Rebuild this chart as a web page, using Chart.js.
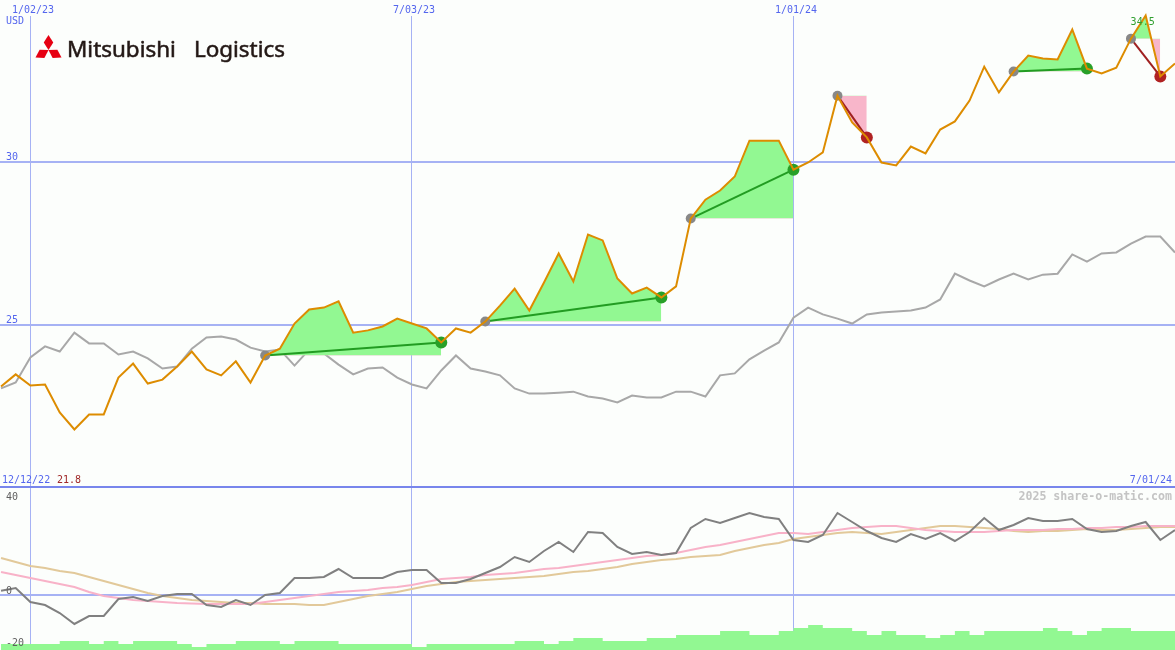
<!DOCTYPE html>
<html>
<head>
<meta charset="utf-8">
<script src="https://cdn.jsdelivr.net/npm/chart.js@4.4.1/dist/chart.umd.min.js"></script>
<style>
  html, body { margin: 0; padding: 0; background: #fcfefc; }
  #wrap { position: relative; width: 1175px; height: 650px; }
</style>
</head>
<body>
<div id="wrap"><canvas id="canvas" width="1175" height="650"></canvas></div>
<script>
// weekly closes, 81 weeks
const weeks = Array.from({ length: 81 }, (_, i) => i);

const price = [
    23.10, 23.47, 23.13, 23.16, 22.30, 21.78, 22.24, 22.24, 23.37, 23.80,
    23.19, 23.31, 23.71, 24.17, 23.62, 23.44, 23.87, 23.22, 24.05, 24.26,
    25.03, 25.46, 25.52, 25.71, 24.75, 24.82, 24.94, 25.18, 25.03, 24.88,
    24.45, 24.88, 24.75, 25.09, 25.58, 26.10, 25.43, 26.29, 27.18, 26.32,
    27.76, 27.58, 26.41, 25.95, 26.13, 25.83, 26.17, 28.25, 28.83, 29.11,
    29.54, 30.64, 30.64, 30.64, 29.75, 29.97, 30.28, 32.02, 31.20, 30.74,
    29.97, 29.88, 30.46, 30.25, 30.98, 31.23, 31.87, 32.91, 32.12, 32.76,
    33.25, 33.16, 33.13, 34.05, 32.85, 32.70, 32.88, 33.77, 34.48, 32.61,
    33.01,
];

// market index, rebased to the price
const market = [
    23.04, 23.22, 23.99, 24.33, 24.17, 24.75, 24.42, 24.42, 24.08, 24.17,
    23.96, 23.65, 23.71, 24.26, 24.60, 24.63, 24.54, 24.29, 24.17, 24.23,
    23.74, 24.23, 24.11, 23.77, 23.47, 23.65, 23.68, 23.37, 23.16, 23.04,
    23.59, 24.05, 23.65, 23.56, 23.44, 23.04, 22.88, 22.88, 22.91, 22.94,
    22.79, 22.73, 22.61, 22.82, 22.76, 22.76, 22.94, 22.94, 22.79, 23.44,
    23.50, 23.93, 24.20, 24.45, 25.21, 25.52, 25.31, 25.18, 25.03, 25.31,
    25.37, 25.40, 25.43, 25.52, 25.77, 26.56, 26.35, 26.17, 26.38, 26.56,
    26.38, 26.53, 26.56, 27.15, 26.93, 27.18, 27.21, 27.48, 27.70, 27.70,
    27.21,
];

// lower panel
const momentum = [
    1.7, 2.8, -2.8, -4.0, -7.2, -11.6, -8.4, -8.4, -1.6, -0.8,
    -2.4, -0.4, 0.4, 0.4, -4.0, -4.8, -2.0, -4.0, 0.0, 0.8,
    6.8, 6.8, 7.2, 10.4, 6.8, 6.8, 6.8, 9.2, 10.0, 10.0,
    4.8, 4.8, 6.4, 8.8, 11.2, 15.2, 13.2, 17.6, 21.2, 17.2,
    25.2, 24.8, 19.2, 16.4, 17.2, 16.0, 16.8, 26.8, 30.4, 28.8,
    30.8, 32.8, 31.2, 30.4, 22.0, 21.2, 24.0, 32.8, 29.2, 25.6,
    22.8, 21.2, 24.4, 22.4, 24.8, 21.6, 25.2, 30.8, 26.0, 28.0,
    30.8, 29.6, 29.6, 30.4, 26.4, 25.2, 25.6, 27.6, 29.2, 22.0,
    26.0,
];
const avgFast = [
    9.2, 8.0, 6.8, 5.6, 4.4, 3.2, 1.2, -0.4, -1.2, -2.0,
    -2.4, -2.8, -3.2, -3.4, -3.6, -3.6, -3.6, -3.6, -2.8, -2.0,
    -1.2, -0.4, 0.4, 1.2, 1.6, 2.0, 2.8, 3.2, 4.0, 5.2,
    6.4, 6.8, 7.2, 8.0, 8.4, 8.8, 9.6, 10.4, 10.8, 11.6,
    12.4, 13.2, 14.0, 14.8, 15.6, 16.0, 16.8, 18.0, 19.2, 20.0,
    21.2, 22.4, 23.6, 24.8, 24.8, 24.4, 25.2, 26.0, 26.8, 27.2,
    27.6, 27.6, 26.8, 26.0, 25.6, 25.2, 25.2, 25.2, 25.6, 26.0,
    26.0, 26.0, 26.4, 26.4, 26.8, 26.8, 27.2, 27.2, 27.6, 27.6,
    27.6,
];
const avgSlow = [
    14.8, 13.2, 11.6, 10.8, 9.6, 8.8, 7.2, 5.6, 4.0, 2.4,
    0.8, -0.4, -1.2, -2.0, -2.4, -2.8, -3.2, -3.2, -3.6, -3.6,
    -3.6, -4.0, -4.0, -2.8, -1.6, -0.4, 0.4, 1.2, 2.4, 3.6,
    4.4, 5.2, 5.6, 6.0, 6.4, 6.8, 7.2, 7.6, 8.4, 9.2,
    9.6, 10.4, 11.2, 12.4, 13.2, 14.0, 14.4, 15.2, 15.6, 16.0,
    17.6, 18.8, 20.0, 20.8, 22.4, 23.2, 24.0, 24.8, 25.2, 24.8,
    24.4, 25.2, 26.0, 26.8, 27.6, 27.6, 27.2, 26.8, 26.4, 25.6,
    25.2, 25.6, 25.6, 26.0, 26.4, 26.0, 26.0, 26.4, 26.8, 27.2,
    27.2,
];
const volume = [
    20, 20, 20, 20, 20, 30, 30, 20, 30, 20,
    30, 30, 30, 20, 10, 20, 20, 30, 30, 30,
    20, 30, 30, 30, 20, 20, 20, 20, 20, 10,
    20, 20, 20, 20, 20, 20, 30, 30, 20, 30,
    40, 40, 30, 30, 30, 40, 40, 50, 50, 50,
    63, 63, 50, 50, 63, 73, 83, 73, 73, 63,
    50, 63, 50, 50, 40, 50, 63, 50, 63, 63,
    63, 63, 73, 63, 50, 63, 73, 73, 63, 63,
    63,
];

// signals: entry week / exit week
const tradeStart = [18, 33, 47, 57, 69, 77];
const tradeEnd = [30, 45, 54, 59, 74, 79];

const tickWeeks = [2, 28, 54];
const tickLabels = ['1/02/23', '7/03/23', '1/01/24'];
const priceTicks = [30, 25];
const oscTicks = [40, 0, -20];
const firstDate = '12/12/22';
const lastDate = '7/01/24';
const currency = 'USD';
const title = ['Mitsubishi', 'Logistics'];

const colors = {
    price: '#dd8c00',
    market: '#a8a8a8',
    momentum: '#808080',
    fast: '#f8b2c8',
    slow: '#e2c99a',
    volume: '#92f892',
    gain: '#92f892',
    loss: '#f8b6ca',
    winLine: '#229c22',
    lossLine: '#a02020',
    grid: '#a6b2f4',
    split: '#7886ec',
    label: '#5466ee',
};
const SPLIT_Y = 487;
const oscLabelShift = [5, -1, 1];

const xy = (arr) => arr.map((v, i) => ({ x: weeks[i], y: v }));
const pt = (i) => ({ x: weeks[i], y: price[i] });

const datasets = [];

datasets.push({
    label: 'price',
    data: xy(price),
    yAxisID: 'yTop',
    borderColor: colors.price,
    borderWidth: 2,
    pointRadius: 0,
    fill: false,
});

// markers
datasets.push({
    label: 'entries',
    data: tradeStart.map(pt),
    yAxisID: 'yTop',
    showLine: false,
    pointRadius: 5,
    pointBorderWidth: 0,
    pointBackgroundColor: '#888888',
});
const wins = tradeStart.map((s, k) => price[tradeEnd[k]] > price[s]);
datasets.push({
    label: 'exits',
    data: tradeEnd.map(pt),
    yAxisID: 'yTop',
    showLine: false,
    pointRadius: 6,
    pointBorderWidth: 0,
    pointBackgroundColor: wins.map(w => w ? '#28a028' : '#b02222'),
});

// trade lines
tradeStart.forEach((s, k) => {
    datasets.push({
        data: [pt(s), pt(tradeEnd[k])],
        yAxisID: 'yTop',
        borderColor: wins[k] ? colors.winLine : colors.lossLine,
        borderWidth: 2,
        pointRadius: 0,
        fill: false,
    });
});

// trade fills against the entry price
tradeStart.forEach((s, k) => {
    const e = tradeEnd[k];
    datasets.push({
        data: weeks.slice(s, e + 1).map(pt),
        yAxisID: 'yTop',
        borderColor: 'rgba(0,0,0,0)',
        borderWidth: 0,
        pointRadius: 0,
        fill: { target: { value: price[s] }, above: colors.gain, below: colors.loss },
    });
});

datasets.push({
    label: 'market',
    data: xy(market),
    yAxisID: 'yTop',
    borderColor: colors.market,
    borderWidth: 2,
    pointRadius: 0,
    fill: false,
});

datasets.push({
    label: 'momentum',
    data: xy(momentum),
    yAxisID: 'yBot',
    borderColor: colors.momentum,
    borderWidth: 2,
    pointRadius: 0,
    fill: false,
});
datasets.push({
    label: 'fast',
    data: xy(avgFast),
    yAxisID: 'yBot',
    borderColor: colors.fast,
    borderWidth: 2,
    pointRadius: 0,
    fill: false,
});
datasets.push({
    label: 'slow',
    data: xy(avgSlow),
    yAxisID: 'yBot',
    borderColor: colors.slow,
    borderWidth: 2,
    pointRadius: 0,
    fill: false,
});
datasets.push({
    label: 'volume',
    data: xy(volume),
    yAxisID: 'yVol',
    stepped: 'after',
    borderColor: 'rgba(0,0,0,0)',
    borderWidth: 0,
    pointRadius: 0,
    backgroundColor: colors.volume,
    fill: 'origin',
});

const gridPlugin = {
    id: 'grid',
    beforeDatasetsDraw(chart) {
        const { ctx, scales, width, height } = chart;
        ctx.save();
        ctx.fillStyle = colors.grid;
        tickWeeks.forEach(w => {
            const px = Math.floor(scales.x.getPixelForValue(w));
            ctx.fillRect(px, 16, 1, height - 16);
        });
        priceTicks.forEach(v => {
            const py = Math.round(scales.yTop.getPixelForValue(v));
            ctx.fillRect(0, py - 1, width, 2);
        });
        const z = Math.round(scales.yBot.getPixelForValue(0));
        ctx.fillRect(0, z - 1, width, 2);
        ctx.fillStyle = colors.split;
        ctx.fillRect(0, SPLIT_Y - 1, width, 2);
        ctx.restore();
    },
    afterDatasetsDraw(chart) {
        const { ctx, scales, width } = chart;
        ctx.save();
        ctx.font = '10px "DejaVu Sans Mono"';
        ctx.textBaseline = 'alphabetic';

        ctx.fillStyle = colors.label;
        ctx.textAlign = 'center';
        tickWeeks.forEach((w, i) => {
            ctx.fillText(tickLabels[i], Math.floor(scales.x.getPixelForValue(w)) + 3, 13);
        });
        ctx.textAlign = 'left';
        ctx.fillText(currency, 6, 24);
        priceTicks.forEach(v => {
            ctx.fillText(String(v), 6, Math.round(scales.yTop.getPixelForValue(v)) - 2);
        });
        ctx.fillText(firstDate, 2, 483);
        const lo = Math.min(...price);
        ctx.fillStyle = '#a02828';
        ctx.fillText(lo.toFixed(1), 57, 483);
        ctx.fillStyle = colors.label;
        ctx.textAlign = 'right';
        ctx.fillText(lastDate, width - 3, 483);

        ctx.fillStyle = '#606060';
        ctx.textAlign = 'left';
        oscTicks.forEach((v, i) => {
            ctx.fillText(String(v), 6, Math.round(scales.yBot.getPixelForValue(v)) + oscLabelShift[i]);
        });

        // high marker
        const hi = Math.max(...price);
        const hiIdx = price.indexOf(hi);
        ctx.fillStyle = '#30a030';
        ctx.textAlign = 'center';
        ctx.fillText(hi.toFixed(1), scales.x.getPixelForValue(weeks[hiIdx]) - 3, scales.yTop.getPixelForValue(hi) + 10);

        ctx.font = 'bold 11.6px "DejaVu Sans Mono"';
        ctx.fillStyle = '#c4c4c4';
        ctx.textAlign = 'right';
        ctx.fillText('2025 share-o-matic.com', width - 3, 500);

        drawLogo(ctx);
        ctx.restore();
    },
};

function drawLogo(ctx) {
    const cx = 48.5, cy = 50, L = 15;
    const w = L / (2 * Math.sqrt(3)) * 1.1;
    const dirs = [[0, -1], [Math.cos(Math.PI / 6), 0.5], [-Math.cos(Math.PI / 6), 0.5]];
    ctx.fillStyle = '#e60012';
    dirs.forEach(([dx, dy]) => {
        const nx = -dy, ny = dx;
        ctx.beginPath();
        ctx.moveTo(cx, cy);
        ctx.lineTo(cx + dx * L / 2 + nx * w, cy + dy * L / 2 + ny * w);
        ctx.lineTo(cx + dx * L, cy + dy * L);
        ctx.lineTo(cx + dx * L / 2 - nx * w, cy + dy * L / 2 - ny * w);
        ctx.closePath();
        ctx.fill();
    });

    ctx.fillStyle = '#231815';
    ctx.strokeStyle = '#231815';
    ctx.lineWidth = 0.5;
    ctx.font = '21px "Noto Sans"';
    ctx.textAlign = 'left';
    const gap = 17;
    const w1 = ctx.measureText(title[0]).width;
    const w2 = ctx.measureText(title[1]).width;
    const sx = (285 - 67) / (w1 + gap + w2);
    ctx.save();
    ctx.translate(67, 56.5);
    ctx.scale(sx, 1);
    ctx.fillText(title[0], 0, 0);
    ctx.fillText(title[1], w1 + gap, 0);
    ctx.strokeText(title[0], 0, 0);
    ctx.strokeText(title[1], w1 + gap, 0);
    ctx.restore();
}

const chart = new Chart(document.getElementById('canvas'), {
    type: 'line',
    data: { datasets: datasets },
    options: {
        responsive: false,
        animation: false,
        devicePixelRatio: 1,
        layout: { padding: 0, autoPadding: false },
        plugins: {
            legend: { display: false },
            tooltip: { enabled: false },
        },
        elements: { line: { tension: 0 } },
        scales: {
            x: { type: 'linear', display: false, min: -0.07, max: 80 },
            yTop: { type: 'linear', display: false, min: 15.015, max: 34.955 },
            yBot: { type: 'linear', display: false, min: -22, max: 238 },
            yVol: { type: 'linear', display: false, min: 0, max: 2166.7 },
        },
    },
    plugins: [gridPlugin],
});
</script>
</body>
</html>
